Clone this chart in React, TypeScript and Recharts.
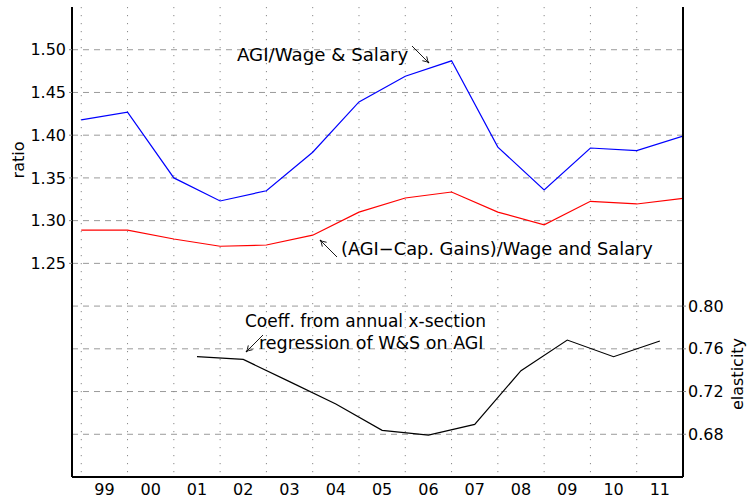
import { LineChart, Line, XAxis, YAxis, CartesianGrid, Customized } from "recharts"

// year labels sit between the vertical grid lines
const yearLabels = ["99", "00", "01", "02", "03", "04", "05", "06", "07", "08", "09", "10", "11"]

// ratio series, one value per grid line (14 boundaries)
const agiWage = [1.418, 1.427, 1.35, 1.323, 1.335, 1.38, 1.439, 1.469, 1.487, 1.386, 1.336, 1.385, 1.382, 1.399]
const agiLessGains = [1.289, 1.289, 1.2785, 1.27, 1.2715, 1.283, 1.31, 1.3265, 1.3335, 1.31, 1.295, 1.3226, 1.3195, 1.326]

// elasticity, one value per year from 01 to 11
const elasticityYears = ["01", "02", "03", "04", "05", "06", "07", "08", "09", "10", "11"]
const elasticity = [0.7526, 0.7501, 0.7293, 0.7083, 0.6837, 0.6793, 0.6893, 0.7395, 0.7682, 0.7526, 0.7673]

const ratioTicks = [1.25, 1.3, 1.35, 1.4, 1.45, 1.5]
const ratioGrid = [1.05, 1.1, 1.15, 1.2, 1.25, 1.3, 1.35, 1.4, 1.45, 1.5]
const elasticityTicks = [0.68, 0.72, 0.76, 0.8]

const FONT = "DejaVu Sans"

const ratioData = agiWage.map((v, i) => ({ x: i, agiWage: v, agiLessGains: agiLessGains[i] }))
const elasticityData = elasticityYears.map((y, i) => ({
  x: yearLabels.indexOf(y) + 0.5,
  elasticity: elasticity[i],
}))
const xTicks = yearLabels.map((_, i) => i + 0.5)
const xGrid = agiWage.map((_, i) => i)

// thin latex-style arrow, head at (x2, y2)
function Arrow({ x1, y1, x2, y2 }: { x1: number; y1: number; x2: number; y2: number }) {
  const a = Math.atan2(y2 - y1, x2 - x1)
  const h = 7
  const p1 = [x2 - h * Math.cos(a - 0.45), y2 - h * Math.sin(a - 0.45)]
  const p2 = [x2 - h * Math.cos(a + 0.45), y2 - h * Math.sin(a + 0.45)]
  return (
    <path
      d={`M${x1},${y1}L${x2},${y2}M${p1[0]},${p1[1]}Q${x2 - 2 * Math.cos(a)},${y2 - 2 * Math.sin(a)} ${x2},${y2}M${p2[0]},${p2[1]}Q${x2 - 2 * Math.cos(a)},${y2 - 2 * Math.sin(a)} ${x2},${y2}`}
      stroke="#000"
      strokeWidth={0.9}
      fill="none"
    />
  )
}

function Annotations() {
  const t = { fontFamily: FONT, fill: "#000" }
  return (
    <g>
      <text x={237} y={61} fontSize={18.2} {...t}>AGI/Wage &amp; Salary</text>
      <Arrow x1={412} y1={46} x2={429} y2={63} />
      <Arrow x1={337} y1={257} x2={320} y2={240} />
      <text x={341} y={255} fontSize={17.8} {...t}>(AGI−Cap. Gains)/Wage and Salary</text>
      <text x={245} y={327} fontSize={17} {...t}>Coeff. from annual x-section</text>
      <Arrow x1={263} y1={335} x2={246} y2={352} />
      <text x={259} y={349} fontSize={17.5} {...t}>regression of W&amp;S on AGI</text>
      <text transform="translate(24,160) rotate(-90)" textAnchor="middle" fontFamily={FONT} fontSize={16}>
        ratio
      </text>
      <text transform="translate(743,374) rotate(-90)" textAnchor="middle" fontFamily={FONT} fontSize={16}>
        elasticity
      </text>
    </g>
  )
}

export default function App() {
  const tick = { fontSize: 16, fill: "#000", fontFamily: FONT }
  return (
    <div style={{ position: "absolute", left: 0, top: 0, width: 748, height: 500, background: "#fff" }}>
      <LineChart width={748} height={500} margin={{ top: 7, right: 0, bottom: 0, left: 0 }}>
        <CartesianGrid
          vertical={false}
          yAxisId="left"
          horizontalValues={ratioGrid}
          stroke="#9a9a9a"
          strokeDasharray="6 5"
        />
        <CartesianGrid
          horizontal={false}
          verticalValues={xGrid}
          stroke="#8a8a8a"
          strokeDasharray="1.2 6.8"
        />
        <XAxis
          type="number"
          dataKey="x"
          domain={[-0.2, 13]}
          allowDataOverflow
          ticks={xTicks}
          tickFormatter={(v) => yearLabels[Math.round(v - 0.5)] ?? ""}
          tick={tick}
          tickLine={false}
          axisLine={{ stroke: "#000", strokeWidth: 2 }}
          height={23}
          tickMargin={1}
          interval={0}
        />
        <YAxis
          yAxisId="left"
          domain={[1.0, 1.55]}
          allowDataOverflow
          ticks={ratioTicks}
          tickFormatter={(v) => v.toFixed(2)}
          tick={tick}
          tickLine={{ stroke: "#888" }}
          tickSize={3}
          tickMargin={3}
          axisLine={{ stroke: "#000", strokeWidth: 2 }}
          width={72}
          interval={0}
        />
        <YAxis
          yAxisId="right"
          orientation="right"
          domain={[0.64, 1.08]}
          allowDataOverflow
          ticks={elasticityTicks}
          tickFormatter={(v) => v.toFixed(2)}
          tick={tick}
          tickLine={{ stroke: "#888" }}
          tickSize={3}
          tickMargin={2}
          axisLine={{ stroke: "#000", strokeWidth: 2 }}
          width={65}
          interval={0}
        />
        <Line
          yAxisId="left"
          data={ratioData}
          dataKey="agiWage"
          type="linear"
          stroke="#0000ff"
          strokeWidth={1.2}
          dot={false}
          isAnimationActive={false}
        />
        <Line
          yAxisId="left"
          data={ratioData}
          dataKey="agiLessGains"
          type="linear"
          stroke="#ff0000"
          strokeWidth={1.2}
          dot={false}
          isAnimationActive={false}
        />
        <Line
          yAxisId="right"
          data={elasticityData}
          dataKey="elasticity"
          type="linear"
          stroke="#000"
          strokeWidth={1.2}
          dot={false}
          isAnimationActive={false}
        />
        <Customized component={Annotations} />
      </LineChart>
    </div>
  )
}
